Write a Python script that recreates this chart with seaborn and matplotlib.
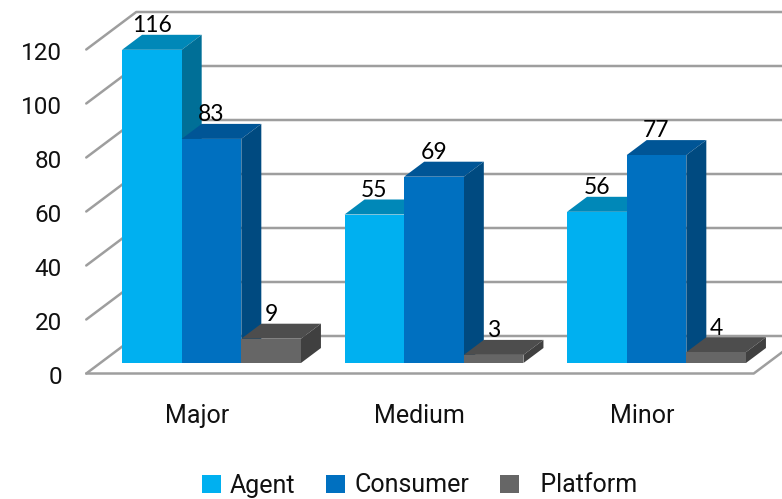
import matplotlib
matplotlib.use("Agg")
import matplotlib.pyplot as plt
from matplotlib.patches import Polygon, Patch
from matplotlib.transforms import ScaledTranslation
import pandas as pd
import seaborn as sns

categories = ["Major", "Medium", "Minor"]
agent = [116, 55, 56]
consumer = [83, 69, 77]
platform = [9, 3, 4]
series_names = ["Agent", "Consumer", "Platform"]
y_ticks = [0, 20, 40, 60, 80, 100, 120]

front_colors = ["#00B0F0", "#0070C0", "#666666"]
top_colors = ["#0088B8", "#005596", "#4D4D4D"]
side_colors = ["#006F97", "#004A80", "#404040"]
LINE = "#9E9E9E"
UI_FONT = "Roboto"
LABEL_FONT = "Lato"

W, H = 782, 499
sns.set_theme(style="white")
plt.rcParams["font.family"] = [UI_FONT, "DejaVu Sans"]

df = pd.DataFrame({
    "category": categories * 3,
    "series": [s for s in series_names for _ in categories],
    "value": agent + consumer + platform,
})

fig = plt.figure(figsize=(W / 100, H / 100), dpi=100, facecolor="white")
# axes box in pixels: left edge 62, floor front edge 373.5
PX_X, PX_Y = 222.5, 2.70
ax = fig.add_axes([62 / W, (H - 373.5) / H, (W - 62) / W, 373.5 / H])
sns.barplot(data=df, x="category", y="value", hue="series", order=categories,
            hue_order=series_names, palette=front_colors, width=0.804,
            saturation=1, legend=False, ax=ax, linewidth=0)
ax.set_xlim((62 - 211.5) / PX_X, (782 - 211.5) / PX_X)
ax.set_ylim(-10.5 / PX_Y, 363 / PX_Y)
ax.set_xlabel("")
ax.set_ylabel("")
sns.despine(ax=ax, left=True, bottom=True)

# oblique projection: depth 1 = one bar depth
DX, DV = 20 / PX_X, 15 / PX_Y
def proj(x, v, d):
    return x + d * DX, v + d * DV

FRONT, BACK = -10.5 / 15, 1.8
x_l, x_r = -0.5, 2.5
line_kw = dict(color=LINE, lw=1.8, clip_on=False, zorder=1, solid_capstyle="round")
for v in y_ticks:
    a, b = proj(x_l, v, FRONT), proj(x_l, v, BACK)
    c = proj(x_r + 0.2, v, BACK)
    ax.plot([a[0], b[0], c[0]], [a[1], b[1], c[1]], **line_kw)
a, b, c = proj(x_l, 0, FRONT), proj(x_r, 0, FRONT), proj(x_r, 0, BACK)
ax.plot([a[0], b[0], c[0]], [a[1], b[1], c[1]], **line_kw)

# depth faces and value labels, drawn left to right so nearer bars overlap
for h, container in enumerate(ax.containers):
    for bar in container:
        x0, w, v = bar.get_x(), bar.get_width(), bar.get_height()
        z = 2 + h
        bar.set_zorder(z + 0.2)
        ax.add_patch(Polygon([proj(x0, v, 0), proj(x0 + w, v, 0), proj(x0 + w, v, 1), proj(x0, v, 1)],
                             closed=True, fc=top_colors[h], ec="none", zorder=z))
        ax.add_patch(Polygon([proj(x0 + w, 0, 0), proj(x0 + w, v, 0), proj(x0 + w, v, 1), proj(x0 + w, 0, 1)],
                             closed=True, fc=side_colors[h], ec="none", zorder=z))
        lx, ly = proj(x0 + w / 2, v, 1)
        ax.annotate(f"{int(v)}", (x0 + w / 2, ly), xytext=(0, -1), textcoords="offset points",
                    ha="center", va="bottom", fontsize=16.5, family=LABEL_FONT,
                    color="#000000", zorder=10, annotation_clip=False)

ax.set_yticks(y_ticks)
ax.tick_params(axis="both", length=0, colors="#111111")
ax.tick_params(axis="y", pad=0, labelsize=17.5)
ax.tick_params(axis="x", pad=22, labelsize=18)
for lab in ax.get_yticklabels():
    lab.set_transform(lab.get_transform() + ScaledTranslation(0, -12 / 100, fig.dpi_scale_trans))
for lab in ax.get_xticklabels():
    lab.set_transform(lab.get_transform() + ScaledTranslation(-14.7 / 100, 0, fig.dpi_scale_trans))

handles = [Patch(fc=c, ec="none") for c in front_colors]
labels = ["Agent", "Consumer", "  Platform"]
fig.legend(handles, labels, ncol=3, frameon=False, fontsize=18, labelcolor="#111111",
           handlelength=0.76, handleheight=0.76, handletextpad=0.36, columnspacing=1.24,
           loc="center", bbox_to_anchor=(419.5 / W, (H - 485.5) / H), borderpad=0, borderaxespad=0)

fig.savefig("out.png", dpi=100, facecolor="white")
